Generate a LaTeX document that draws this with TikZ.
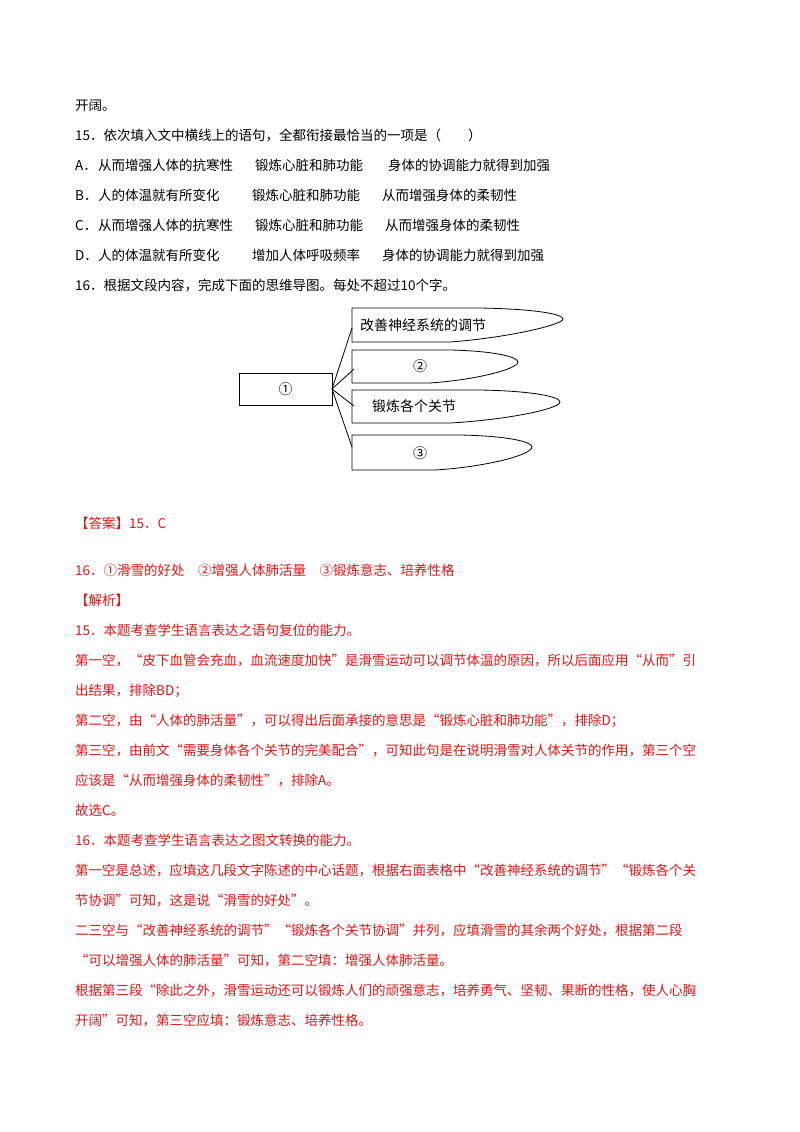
\documentclass[tikz,border=0pt]{standalone}
\usepackage{fontspec}
\setmainfont{Noto Sans CJK SC}
\begin{document}
\begin{tikzpicture}[x=1pt,y=-1pt,
  ln/.style={anchor=base west,inner sep=0pt,font=\fontsize{13.5}{14}\selectfont},
  rd/.style={ln,text={rgb,255:red,230;green,20;blue,20}},
  leaf/.style={draw,line width=0.8pt,fill=white},
  con/.style={line width=0.8pt}]
\useasboundingbox (0,0) rectangle (800,1132);
\fill[white] (0,0) rectangle (800,1132);
\node[ln] (t0) at (75,110) {开阔。};
\node[ln] (t1) at (75,140) {15．依次填入文中横线上的语句，全都衔接最恰当的一项是（\quad\quad）};
\node[ln] (a0) at (75,170) {A．};\node[ln] (a1) at (98,170) {从而增强人体的抗寒性};\node[ln] (a2) at (255,170) {锻炼心脏和肺功能};\node[ln] (a3) at (388,170) {身体的协调能力就得到加强};
\node[ln] (b0) at (75,200) {B．};\node[ln] (b1) at (98,200) {人的体温就有所变化};\node[ln] (b2) at (252,200) {锻炼心脏和肺功能};\node[ln] (b3) at (382,200) {从而增强身体的柔韧性};
\node[ln] (c0) at (75,230) {C．};\node[ln] (c1) at (98,230) {从而增强人体的抗寒性};\node[ln] (c2) at (255,230) {锻炼心脏和肺功能};\node[ln] (c3) at (385,230) {从而增强身体的柔韧性};
\node[ln] (d0) at (75,260) {D．};\node[ln] (d1) at (98,260) {人的体温就有所变化};\node[ln] (d2) at (252,260) {增加人体呼吸频率};\node[ln] (d3) at (382,260) {身体的协调能力就得到加强};
\node[ln] (t2) at (75,290) {16．根据文段内容，完成下面的思维导图。每处不超过10个字。};
% diagram
\node[draw,line width=0.8pt,minimum width=93pt,minimum height=32pt,inner sep=0pt,font=\fontsize{14}{14}\selectfont] (c) at (285.5,389) {①};
\coordinate (h) at (332,389);
\draw[leaf] (352,308) -- (480,308) .. controls (535,309) and (563,314) .. (563,319) .. controls (563,325) and (505,338) .. (450,342) -- (352,342) -- cycle;
\draw[leaf] (352,350) -- (450,350) .. controls (495,351) and (518,357) .. (518,362) .. controls (518,369) and (475,380) .. (430,383) -- (352,383) -- cycle;
\draw[leaf] (352,390) -- (480,390) .. controls (535,391) and (560,397) .. (560,402) .. controls (560,409) and (505,420) .. (450,423) -- (352,423) -- cycle;
\draw[leaf] (352,435) -- (460,435) .. controls (510,436) and (532,442) .. (532,447) .. controls (532,455) and (485,467) .. (435,470) -- (352,470) -- cycle;
\node[anchor=west,font=\fontsize{14}{14}\selectfont,inner sep=0pt] (l1) at (360,325) {改善神经系统的调节};
\node[font=\fontsize{14}{14}\selectfont,inner sep=0pt] (l2) at (420,366) {②};
\node[anchor=west,font=\fontsize{14}{14}\selectfont,inner sep=0pt] (l3) at (372,406) {锻炼各个关节};
\node[font=\fontsize{14}{14}\selectfont,inner sep=0pt] (l4) at (420,453) {③};
\coordinate (e1) at (352,328);\coordinate (e2) at (354,369);\coordinate (e3) at (354,406);\coordinate (e4) at (352,447);
\foreach \e in {e1,e2,e3,e4} \draw[con] (h) -- (\e);
% answer
\node[rd] (r1) at (75,528) {【答案】15．C};
\node[rd] (r2) at (75,575) {16．①滑雪的好处\quad ②增强人体肺活量\quad ③锻炼意志、培养性格};
\node[rd] (r3) at (75,605) {【解析】};
\node[rd] (r4) at (75,635) {15．本题考查学生语言表达之语句复位的能力。};
\node[rd] (r5) at (75,665) {第一空，“皮下血管会充血，血流速度加快”是滑雪运动可以调节体温的原因，所以后面应用“从而”引};
\node[rd] (r6) at (75,695) {出结果，排除BD；};
\node[rd] (r7) at (75,725) {第二空，由“人体的肺活量”，可以得出后面承接的意思是“锻炼心脏和肺功能”，排除D；};
\node[rd] (r8) at (75,755) {第三空，由前文“需要身体各个关节的完美配合”，可知此句是在说明滑雪对人体关节的作用，第三个空};
\node[rd] (r9) at (75,785) {应该是“从而增强身体的柔韧性”，排除A。};
\node[rd] (r10) at (75,815) {故选C。};
\node[rd] (r11) at (75,845) {16．本题考查学生语言表达之图文转换的能力。};
\node[rd] (r12) at (75,875) {第一空是总述，应填这几段文字陈述的中心话题，根据右面表格中“改善神经系统的调节”“锻炼各个关};
\node[rd] (r13) at (75,905) {节协调”可知，这是说“滑雪的好处”。};
\node[rd] (r14) at (75,935) {二三空与“改善神经系统的调节”“锻炼各个关节协调”并列，应填滑雪的其余两个好处，根据第二段};
\node[rd] (r15) at (75,965) {“可以增强人体的肺活量”可知，第二空填：增强人体肺活量。};
\node[rd] (r16) at (75,995) {根据第三段“除此之外，滑雪运动还可以锻炼人们的顽强意志，培养勇气、坚韧、果断的性格，使人心胸};
\node[rd] (r17) at (75,1025) {开阔”可知，第三空应填：锻炼意志、培养性格。};
\end{tikzpicture}
\end{document}
